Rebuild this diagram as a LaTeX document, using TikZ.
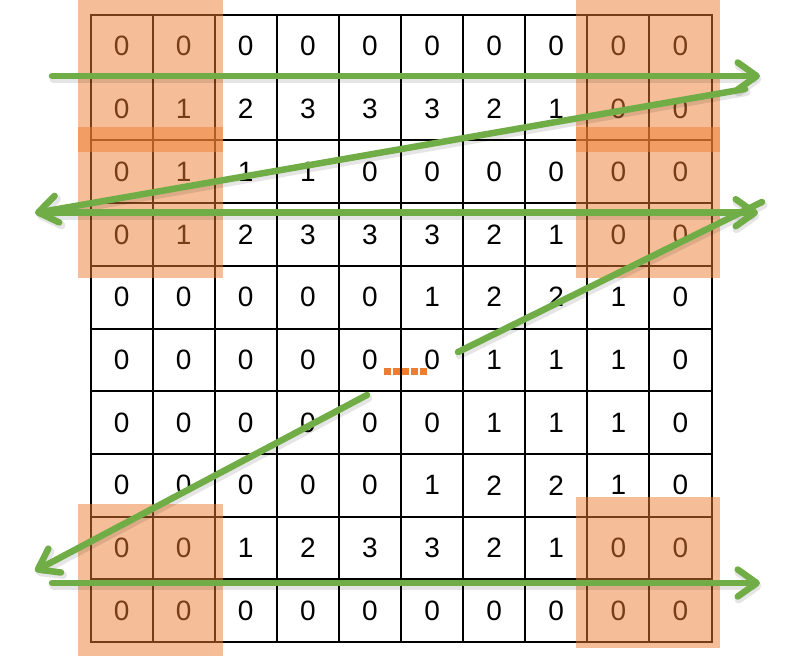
\documentclass[tikz,border=0pt]{standalone}
\usepackage{fontspec}
\setmainfont{Liberation Sans}
\usetikzlibrary{arrows.meta}
\definecolor{ppgreen}{HTML}{70AD47}
\definecolor{pporange}{HTML}{ED7D31}
\tikzset{
  cell/.style={inner sep=0pt, font=\fontsize{28}{30}\selectfont},
  gridline/.style={line width=2pt, black, line cap=rect},
  pad/.style={fill=pporange, fill opacity=0.5, draw=none},
  greentip/.style={-{Straight Barb[length=19pt 0 0,width=27pt 0 0,round]}},
  gline/.style={draw=ppgreen, line width=6.5pt, line cap=round},
  gshadow/.style={draw=black, draw opacity=0.10, line width=8pt, line cap=round,
    transform canvas={shift={(1.5pt,-3pt)}}},
  dotline/.style={draw=pporange, line width=7pt, dash pattern=on 7pt off 2pt}
}
\begin{document}
\begin{tikzpicture}[x=1pt,y=-1pt]
\useasboundingbox (0,0) rectangle (795,656);
% grid
\foreach \i in {0,...,10}{
  \draw[gridline] ({90.5+62.1*\i},15) -- ({90.5+62.1*\i},642);
  \draw[gridline] (90.5,{15+62.7*\i}) -- (711.5,{15+62.7*\i});
}
% values
\foreach \row [count=\r from 0] in {
  {0,0,0,0,0,0,0,0,0,0},
  {0,1,2,3,3,3,2,1,0,0},
  {0,1,1,1,0,0,0,0,0,0},
  {0,1,2,3,3,3,2,1,0,0},
  {0,0,0,0,0,1,2,2,1,0},
  {0,0,0,0,0,0,1,1,1,0},
  {0,0,0,0,0,0,1,1,1,0},
  {0,0,0,0,0,1,2,2,1,0},
  {0,0,1,2,3,3,2,1,0,0},
  {0,0,0,0,0,0,0,0,0,0}}{
  \foreach \v [count=\c from 0] in \row {
    \node[cell] (c\r-\c) at ({90.5+62.1*(\c+0.5)},{15+62.7*(\r+0.5)}) {\v};
  }
}
% padding overlays
\fill[pad] (78,0) rectangle (222.7,278);
\fill[pad] (576,0) rectangle (720,278);
\fill[pad] (78,127) rectangle (222.7,151.7);
\fill[pad] (576,127) rectangle (720,151.7);
\fill[pad] (78,504) rectangle (222.7,656);
\fill[pad] (576,497) rectangle (720,648);
% dotted ellipsis
\coordinate (d1) at (383.5,371);
\coordinate (d2) at (427.5,371);
\draw[dotline] (d1) -- (d2);
% arrow coordinates
\coordinate (a1s) at (52,76);   \coordinate (a1e) at (760,76);
\coordinate (a2s) at (745,89);  \coordinate (a2e) at (35,213);
\coordinate (a3s) at (52,212.7);\coordinate (a3e) at (758,212.7);
\coordinate (a4s) at (458,352); \coordinate (a4e) at (762,202);
\coordinate (a5s) at (367,395); \coordinate (a5e) at (35,571);
\coordinate (a6s) at (52,583);  \coordinate (a6e) at (760,583);
% shadows
\draw[gshadow,greentip] (a1s) -- (a1e);
\draw[gshadow,greentip] (a2s) -- (a2e);
\draw[gshadow,greentip] (a3s) -- (a3e);
\draw[gshadow] (a4s) -- (a4e);
\draw[gshadow,greentip] (a5s) -- (a5e);
\draw[gshadow,greentip] (a6s) -- (a6e);
% arrows
\draw[gline,greentip] (a1s) -- (a1e);
\draw[gline,greentip] (a2s) -- (a2e);
\draw[gline,greentip] (a3s) -- (a3e);
\draw[gline] (a4s) -- (a4e);
\draw[gline,greentip] (a5s) -- (a5e);
\draw[gline,greentip] (a6s) -- (a6e);
\end{tikzpicture}
\end{document}
